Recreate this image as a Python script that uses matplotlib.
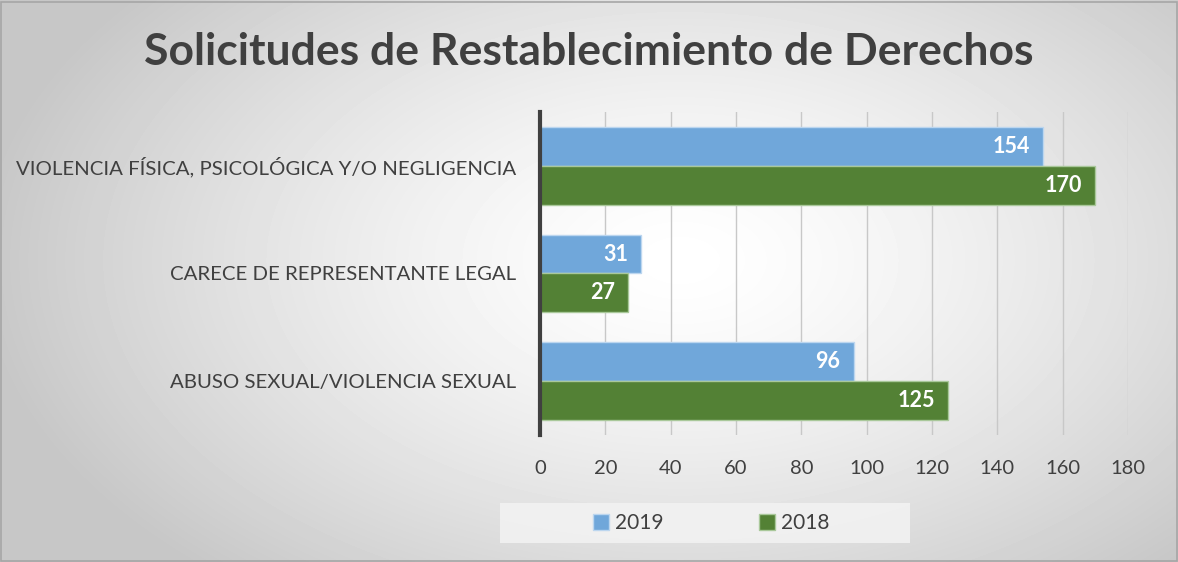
import matplotlib.pyplot as plt
import numpy as np
from matplotlib.patches import Rectangle

# Data (top to bottom)
categories = [
    "VIOLENCIA FÍSICA, PSICOLÓGICA Y/O NEGLIGENCIA",
    "CARECE DE REPRESENTANTE LEGAL",
    "ABUSO SEXUAL/VIOLENCIA SEXUAL",
]
values_2019 = [154, 31, 96]
values_2018 = [170, 27, 125]
series_labels = ["2019", "2018"]
x_ticks = [0, 20, 40, 60, 80, 100, 120, 140, 160, 180]

BLUE = "#70a7da"
GREEN = "#538135"
TEXT = "#404040"

plt.rcParams["font.family"] = ["Lato", "DejaVu Sans"]

fig = plt.figure(figsize=(11.78, 5.62), dpi=100)

# Radial gradient background, white in the middle, gray towards the corners
bg = fig.add_axes([0, 0, 1, 1], zorder=-10)
yy, xx = np.mgrid[0:562, 0:1178]
r = np.sqrt(((xx - 680) / 700.0) ** 2 + ((yy - 260) / 420.0) ** 2)
shade = 1.0 - 0.22 * np.clip(r, 0, 1) ** 1.4
bg.imshow(shade, cmap="gray", vmin=0, vmax=1, aspect="auto",
          extent=[0, 1, 0, 1], origin="upper")
bg.add_patch(Rectangle((0.001, 0.002), 0.998, 0.995, transform=bg.transAxes,
                       fill=False, edgecolor="#a6a6a6", lw=1.2))
# legend box area
bg.add_patch(Rectangle((0.4245, 0.034), 0.348, 0.071, transform=bg.transAxes,
                       facecolor="#f3f3f3", edgecolor="none", alpha=0.85))
bg.set_axis_off()

fig.text(0.5, 0.907, "Solicitudes de Restablecimiento de Derechos",
         ha="center", va="center", fontsize=32, fontweight="bold", color=TEXT)

ax = fig.add_axes([0.4584, 0.226, 0.4992, 0.5747])
ax.patch.set_alpha(0)

y = np.arange(len(categories))
h = 0.36
bars_a = ax.barh(y - h / 2, values_2019, height=h, color=BLUE,
                 edgecolor="#bcd6ef", lw=1, label=series_labels[0], zorder=3)
bars_b = ax.barh(y + h / 2, values_2018, height=h, color=GREEN,
                 edgecolor="#a9c89a", lw=1, label=series_labels[1], zorder=3)

for bars in (bars_a, bars_b):
    for b in bars:
        ax.text(b.get_width() - 4, b.get_y() + b.get_height() / 2,
                f"{int(b.get_width())}", ha="right", va="center",
                color="white", fontsize=15.5, fontweight="bold", zorder=4)

ax.set_xlim(0, 180)
ax.set_ylim(len(categories) - 0.5, -0.5)
ax.set_xticks(x_ticks)
ax.set_yticks(y)
ax.set_yticklabels(categories)
ax.tick_params(axis="x", length=0, pad=18, labelsize=14.5, labelcolor=TEXT)
ax.tick_params(axis="y", length=0, pad=17, labelsize=14.7, labelcolor=TEXT)
ax.grid(axis="x", color="#c8c8c8", lw=1, zorder=1)
for side in ("top", "right", "bottom"):
    ax.spines[side].set_visible(False)
ax.spines["left"].set_color("#404040")
ax.spines["left"].set_linewidth(3)
ax.spines["left"].set_zorder(5)

leg = fig.legend(loc="center", bbox_to_anchor=(0.604, 0.069), ncol=2,
                 frameon=False, fontsize=15, handlelength=0.75, handleheight=0.75,
                 columnspacing=4.6, handletextpad=0.3)
for t in leg.get_texts():
    t.set_color(TEXT)

fig.savefig("out.png", dpi=100)
